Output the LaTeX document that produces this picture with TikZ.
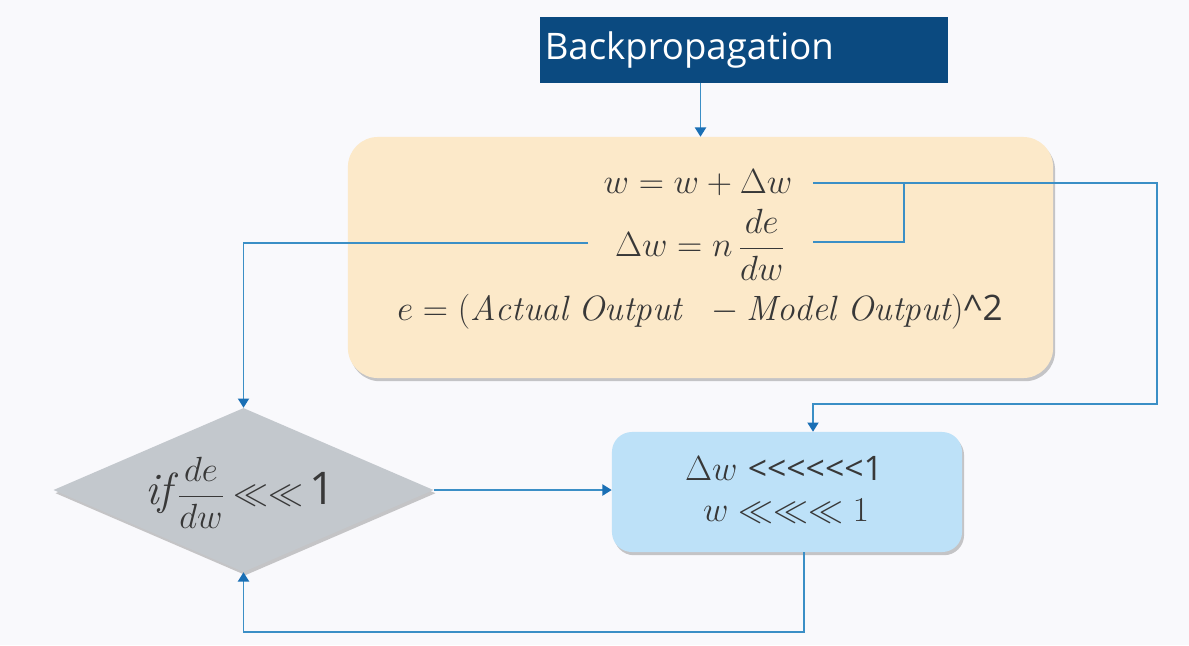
\documentclass[tikz,border=0pt]{standalone}
\usepackage{amsmath}
\usepackage{amssymb}
\usepackage{fontspec}
\setsansfont{Open Sans}
\usetikzlibrary{shapes.geometric,arrows.meta,shadows}
\definecolor{titleblue}{HTML}{0B4A80}
\definecolor{eqyellow}{HTML}{FCE9C9}
\definecolor{dwblue}{HTML}{BDE1F8}
\definecolor{condgray}{HTML}{C3C8CD}
\definecolor{lineblue}{HTML}{3B8FC6}
\definecolor{tipblue}{HTML}{1A6FB5}
\definecolor{inkgray}{HTML}{383838}
\definecolor{bgwhite}{HTML}{F9F9FC}
\newcommand{\bigsize}{\fontsize{32}{36}\selectfont}
\newcommand{\hugesize}{\fontsize{38}{42}\selectfont}

\begin{document}
\begin{tikzpicture}[x=0.025cm,y=-0.025cm,
    conn/.style={draw=lineblue, line width=0.9pt},
    arr/.style={conn, -{Triangle[length=2.3mm,width=2.8mm,color=tipblue]}},
    shade/.style={drop shadow={shadow xshift=0.5mm,shadow yshift=-0.8mm,opacity=0.3,fill=black!70}},
    eqline/.style={text=inkgray, font=\fontsize{25}{29}\selectfont}]
    \fill[bgwhite] (0,0) rectangle (1189,645);
    \useasboundingbox (0,0) rectangle (1189,645);
    % boxes
    \node[fill=titleblue, text=white, minimum width=10.2cm, minimum height=1.65cm, inner xsep=0.12cm,
          text width=9.96cm, align=left, font=\sffamily\fontsize{26}{30}\selectfont] (title) at (744,50) {\raisebox{-3pt}{Backpropagation}};
    \node[fill=eqyellow, shade, rounded corners=0.75cm, minimum width=17.625cm, minimum height=6.025cm] (eqbox) at (700.5,257.5) {};
    \node[diamond, fill=condgray, shade, inner sep=0pt, minimum width=9.5cm, minimum height=4.1cm] (cond) at (243.5,490) {};
    \node[fill=dwblue, shade, rounded corners=0.5cm, minimum width=8.75cm, minimum height=3cm] (dwbox) at (787,492) {};
    % texts
    \node[eqline] (eq1) at (698,183) {$w = w + \Delta w$};
    \node[eqline] (eq2) at (700,245) {$\Delta w = n\,\dfrac{de}{dw}$};
    \node[eqline] (eq3) at (700,312) {$e = (\mathit{Actual\ Output}\ \ - \mathit{Model\ Output})$\textsf{\textasciicircum 2}};
    \node[eqline, font=\fontsize{24}{28}\selectfont] (dw1) at (784,468) {$\Delta w$ \textsf{<{}<{}<{}<{}<{}<1}};
    \node[eqline, font=\fontsize{24}{28}\selectfont] (dw2) at (786,511) {$w \ll\ll\ll 1$};
    \node[eqline, font=\fontsize{24}{28}\selectfont] (cond1) at (240,493)
        {{\bigsize$\mathit{if}$}\,$\dfrac{de}{dw}$\;{\hugesize$\ll\ll$}\,{\bigsize\textsf{1}}};
    % connectors
    \coordinate (w1) at (813,183);
    \coordinate (w2) at (813,242);
    \coordinate (jn) at (904,183);
    \coordinate (rt) at (1157,404);
    \coordinate (w3) at (588,243);
    \coordinate (lp) at (804,632);
    \coordinate (dwin) at (dwbox.north -| w1);
    \draw[arr] (title.south -| eqbox.north) -- (eqbox.north);
    \draw[arr] (w1) -| (rt) -| (dwin);
    \draw[conn] (w2) -| (jn);
    \draw[arr] (w3) -| (cond.north);
    \draw[arr] (cond.east) -- (cond.east -| dwbox.west);
    \draw[arr] (dwbox.south -| lp) -- (lp) -| (cond.south);
\end{tikzpicture}
\end{document}
